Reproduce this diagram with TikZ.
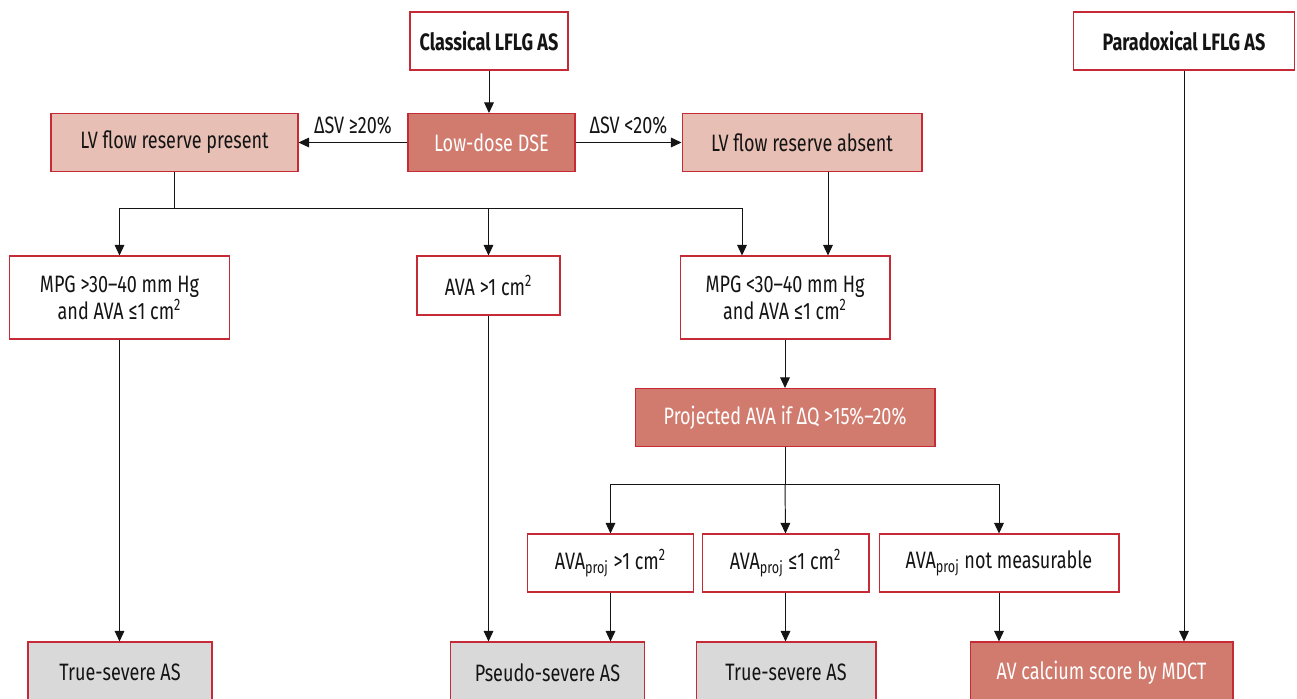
\documentclass[tikz,border=0pt]{standalone}
\usepackage{fontspec}
\setmainfont{Fira Sans}[FakeStretch=0.76]
\usetikzlibrary{arrows.meta, positioning, calc}
\definecolor{boxred}{RGB}{198,42,54}
\definecolor{darkfill}{RGB}{208,123,110}
\definecolor{lightfill}{RGB}{232,191,180}
\definecolor{grayfill}{RGB}{217,217,217}
\definecolor{inkgray}{RGB}{20,20,20}

\begin{document}
\begin{tikzpicture}[x=0.02cm, y=-0.02cm,
    box/.style={rectangle, draw=boxred, line width=0.6pt, minimum height=1.16cm, align=center, inner sep=2pt, text=inkgray, font=\fontsize{13.5}{15.5}\selectfont},
    plain/.style={box, fill=white},
    head/.style={box, fill=white, font=\fontsize{13.5}{15.5}\selectfont\bfseries},
    dark/.style={box, fill=darkfill, text=white},
    light/.style={box, fill=lightfill},
    result/.style={box, fill=grayfill, minimum height=1.22cm},
    arrow/.style={-{Triangle[length=6pt, width=5.5pt]}, line width=0.55pt, inkgray},
    link/.style={line width=0.55pt, inkgray},
    cond/.style={font=\fontsize{13.5}{15.5}\selectfont, text=inkgray}
]
    \useasboundingbox (0,0) rectangle (1297,699);

    % Top row
    \node[head, minimum width=3.16cm] (classical) at (489,41) {Classical LFLG AS};
    \node[head, minimum width=4.42cm] (paradox)   at (1184,41) {Paradoxical LFLG AS};

    % DSE row
    \node[dark,  minimum width=3.34cm] (dse)     at (491.5,142.5) {Low-dose DSE};
    \node[light, minimum width=4.94cm] (present) at (174.5,142.5) {LV flow reserve present};
    \node[light, minimum width=4.8cm]  (absent)  at (802,142.5)   {LV flow reserve absent};

    % Gradient / area row
    \node[plain, minimum width=4.4cm, minimum height=1.66cm]  (mpghi) at (119.5,297.5)
        {MPG >30–40 mm Hg\\and AVA ≤1 cm\textsuperscript{2}};
    \node[plain, minimum width=2.86cm, minimum height=1.18cm] (avahi) at (488.5,285.5)
        {AVA >1 cm\textsuperscript{2}};
    \node[plain, minimum width=4.2cm, minimum height=1.66cm]  (mpglo) at (785,297.5)
        {MPG <30–40 mm Hg\\and AVA ≤1 cm\textsuperscript{2}};

    % Projected AVA
    \node[dark, minimum width=6cm] (proj) at (785,417.5) {Projected AVA if ΔQ >15\%–20\%};

    \node[plain, minimum width=3.32cm] (projhi) at (610.5,563)  {AVA\textsubscript{proj} >1 cm\textsuperscript{2}};
    \node[plain, minimum width=3.34cm] (projlo) at (785.5,563)  {AVA\textsubscript{proj} ≤1 cm\textsuperscript{2}};
    \node[plain, minimum width=4.8cm]  (projnm) at (999,563)    {AVA\textsubscript{proj} not measurable};

    % Outcomes
    \node[result, minimum width=3.68cm] (truel)  at (120,672.5)  {True-severe AS};
    \node[result, minimum width=3.88cm] (pseudo) at (547.5,672.5) {Pseudo-severe AS};
    \node[result, minimum width=3.6cm]  (truer)  at (786,672.5)  {True-severe AS};
    \node[dark, minimum width=5.26cm, minimum height=1.22cm] (calc) at (1101.5,672.5) {AV calcium score by MDCT};

    % Helper points
    \coordinate (bus1) at (0,208);
    \coordinate (bus2) at (0,484);
    \coordinate (inL) at ($(mpglo.north)+(-43,0)$);
    \coordinate (inR) at ($(mpglo.north)+(43,0)$);

    % Arrows
    \draw[arrow] (classical) -- (classical.south |- dse.north);
    \draw[arrow] (dse) -- node[cond, above=1pt] {ΔSV ≥20\%} (present);
    \draw[arrow] (dse) -- node[cond, above=1pt] {ΔSV <20\%} (absent);

    \draw[link]  (present.south) -- (present.south |- bus1);
    \draw[arrow] (present.south |- bus1) -| (mpghi.north);
    \draw[arrow] (present.south |- bus1) -| (avahi.north);
    \draw[arrow] (present.south |- bus1) -| (inL);
    \draw[arrow] (absent.south -| inR) -- (inR);

    \draw[arrow] (mpglo) -- (proj);
    \draw[link]  (proj.south) -- (proj.south |- bus2);
    \draw[arrow] (proj.south |- bus2) -| (projhi.north);
    \draw[arrow] (proj.south |- bus2) -- (projlo.north);
    \draw[arrow] (proj.south |- bus2) -| (projnm.north);

    \draw[arrow] (mpghi) -- (truel.north -| mpghi.south);
    \draw[arrow] (avahi) -- (pseudo.north -| avahi.south);
    \draw[arrow] (projhi) -- (pseudo.north -| projhi.south);
    \draw[arrow] (projlo) -- (truer.north -| projlo.south);
    \draw[arrow] (projnm) -- (calc.north -| projnm.south);
    \draw[arrow] (paradox) -- (calc.north -| paradox.south);
\end{tikzpicture}
\end{document}
